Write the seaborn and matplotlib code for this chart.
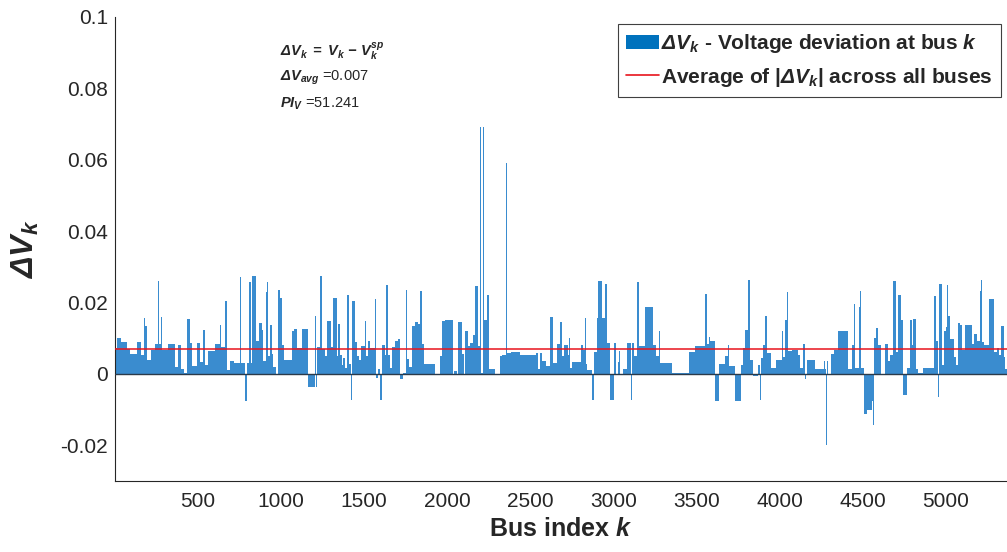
import numpy as np
import pandas as pd
import matplotlib
matplotlib.use("Agg")
import matplotlib.pyplot as plt
import seaborn as sns
from matplotlib.patches import Patch
from matplotlib.lines import Line2D

# ---- data: run-length description of the bus voltage deviations ----
seg_end = [10,34,74,90,130,154,174,184,196,218,242,260,264,276,286,320,360,380,400,414,
           434,450,462,494,514,530,542,562,602,634,640,660,674,690,714,750,760,780,792,804,
           816,824,849,
           867,883,893,907,917,923,933,943,953,967,983,993,1003,1017,1063,1079,1093,1123,1163,1203,
           1207,1213,1233,1243,1263,1279,1299,1313,1335,1343,1355,1367,1373,1387,1399,1407,1411,1419,1429,1447,
           1455,1467,1483,1503,1513,1523,1533,1563,1571,1583,1595,1607,1627,1633,1641,1653,1669,1687,1703,1713,
           1733,
           1752,1760,1772,1786,1806,1826,1836,1848,1860,1926,1956,1966,1986,2032,2040,2056,2066,2086,2100,2106,
           2122,2136,2152,2166,2182,2196,2202,2212,2218,2240,2252,2286,2316,2326,2356,2362,2386,2436,2536,2546,
           2556,2572,2596,
           2619,2633,2659,2679,2689,2705,2725,2733,2741,2753,2805,2819,2829,2835,2841,2873,2885,2899,2909,2929,
           2949,2959,2979,3005,3013,3025,3033,3041,3059,3079,3103,3113,3125,3141,3151,3189,3239,3253,3273,3281,
           3353,3453,3492,
           3552,3562,3572,3582,3608,3636,3672,3686,3696,3730,3766,3778,3794,3812,3822,3838,3868,3882,3886,3902,
           3912,3922,3946,3978,4012,4018,4032,4042,4052,4072,4112,4122,4138,4152,4158,4162,4212,4266,4272,4278,
           4282,4292,4306,4326,4348,
           4410,4434,4448,4454,4478,4484,4490,4510,4528,4554,4562,4566,4570,4578,4590,4610,4634,4650,4664,4684,
           4698,4714,4728,4744,4768,4784,4794,4804,4818,4830,4864,4928,4938,4954,4958,4974,4986,4998,5004,5014,
           5024,5048,5060,5070,5084,5094,5114,5154,5170,5190,5204,5214,5220,5230,5258,5290,5310,5320,5334,5348,
           5358,5368]

seg_dv = [0.0073,0.0101,0.009,0.007,0.0056,0.009,0.0054,0.0157,0.0134,0.004,
          0.0068,0.0084,0.0259,0.0084,0.0159,0.0066,0.0084,0.002,0.0082,0.0014,
          0.0003,0.0154,0.0087,0.0021,0.0087,0.0033,0.0124,0.0026,0.0063,0.0084,
          0.0138,0.0076,0.0205,0.0012,0.0037,0.0031,0.0271,0.0031,-0.0077,0.0031,
          0.0258,0.0031,0.0275,
          0.0093,0.0143,0.0122,0.0037,0.023,0.0258,0.005,0.0138,0.0057,0.0019,
          -0.0002,0.0234,0.0213,0.0082,0.0039,0.012,0.0126,0.0073,0.0126,-0.0037,
          0.0163,-0.0037,0.0076,0.0275,0.007,0.0051,0.0149,0.0076,0.0213,0.005,
          0.0141,0.0054,0.0026,0.0045,0.0017,0.0222,0.0289,0.0029,-0.0072,0.0204,
          0.0089,0.0051,0.004,0.0079,0.0149,0.005,0.0092,0.0073,0.021,-0.0011,
          0.0014,-0.0072,0.0082,0.0054,0.025,0.0054,0.0017,0.0076,0.0093,0.0099,
          -0.0013,
          0.0003,0.0236,0.0042,0.002,0.0135,0.0145,0.0141,0.0232,0.0085,0.0029,
          0.0,0.0051,0.0147,0.0152,0.0,0.0007,0.0,0.0145,0.0057,0.0,
          0.012,0.0079,0.0087,0.011,0.0247,0.0077,0.0693,0.0003,0.0693,0.0152,
          0.022,0.0015,0.0,0.005,0.0054,0.0592,0.0059,0.0062,0.0052,0.0059,
          0.0014,0.0059,0.0035,
          0.0021,0.016,0.0031,0.0084,0.0146,0.0051,0.0082,0.0054,0.01,0.0017,
          0.0033,0.0082,0.0068,0.0157,0.0028,0.0012,-0.0072,0.0062,0.0157,0.026,
          0.0157,0.0252,0.0087,-0.0072,0.0087,0.0,0.0033,0.0064,0.0,0.0015,
          0.0087,-0.0072,0.0087,0.0051,0.0258,0.0077,0.0188,0.0082,0.0051,0.012,
          0.0031,0.0003,0.0062,
          0.0077,0.0225,0.0085,0.0104,0.0092,-0.0075,0.0028,0.005,0.008,0.0021,
          -0.0075,0.0026,0.0073,0.0124,0.0264,0.004,-0.0007,0.0026,-0.0072,0.0044,
          0.0082,0.0163,0.0058,0.0017,0.0038,0.0121,0.0047,0.0152,0.023,0.0063,
          0.0068,0.0054,0.0017,0.0084,-0.0014,0.0,0.004,0.0014,0.0037,0.0014,
          -0.02,0.0037,0.0,0.0056,0.0066,
          0.0121,0.0015,0.0082,0.0197,0.0017,0.0188,0.0233,0.0017,-0.0111,-0.01,
          -0.0076,-0.0144,0.0,0.0101,0.0129,0.0082,-0.0004,0.0084,0.0037,0.0054,
          0.026,0.0062,0.0222,0.0152,-0.006,0.0017,0.0152,0.0082,0.0154,0.0014,
          0.0002,0.0017,0.0218,0.0092,-0.0064,0.0253,0.0026,0.0121,0.0131,0.025,
          0.0163,0.0099,0.0047,0.0026,0.0143,0.0138,0.0066,0.0138,0.0085,0.0113,
          0.0093,0.0232,0.0262,0.0089,0.0082,0.021,0.0062,0.0073,0.0054,0.0135,
          0.0047,0.0014]

dv_avg = 0.007
pi_v = 51.241
x_ticks = [500, 1000, 1500, 2000, 2500, 3000, 3500, 4000, 4500, 5000]
y_ticks = [-0.02, 0, 0.02, 0.04, 0.06, 0.08, 0.1]
y_ticklabels = ["-0.02", "0", "0.02", "0.04", "0.06", "0.08", "0.1"]

# expand runs to one value per bus
lengths = np.diff(np.concatenate([[0], seg_end]))
dv = np.repeat(seg_dv, lengths)
bus = np.arange(1, len(dv) + 1)
df = pd.DataFrame({"bus": bus, "dv": dv})

# ---- styling ----
sns.set_theme(style="white")
plt.rcParams["font.family"] = ["Liberation Sans", "DejaVu Sans"]
plt.rcParams["mathtext.fontset"] = "custom"
plt.rcParams["mathtext.rm"] = "Liberation Sans"
plt.rcParams["mathtext.it"] = "Liberation Sans:italic"
plt.rcParams["mathtext.bf"] = "Liberation Sans:bold"
plt.rcParams["mathtext.bfit"] = "Liberation Sans:bold:italic"

fig = plt.figure(figsize=(10.07, 5.52), dpi=100)
ax = fig.add_axes([115/1007, 1 - 481/552, 1 - 115/1007, (481 - 17)/552])

bar_color = "#3a8ccf"
sns.barplot(data=df, x="bus", y="dv", native_scale=True, width=1.0,
            color=bar_color, linewidth=0, errorbar=None, ax=ax, saturation=1)

ax.axhline(0, color="#2b3a4a", lw=1.0, zorder=3)
ax.axhline(dv_avg, color="#e8141c", lw=1.1, zorder=4)

ax.set_xlim(1, 5368)
ax.set_ylim(-0.03, 0.1)
ax.set_xticks(x_ticks)
ax.set_xticklabels([str(t) for t in x_ticks])
ax.set_yticks(y_ticks)
ax.set_yticklabels(y_ticklabels)
ax.tick_params(axis="both", direction="in", length=6, width=0.8, color="#262626",
               labelsize=15, labelcolor="#262626")
ax.tick_params(axis="y", pad=5)
ax.tick_params(axis="x", pad=8)

for s in ["top", "right"]:
    ax.spines[s].set_visible(False)
for s in ["left", "bottom"]:
    ax.spines[s].set_color("#262626")
    ax.spines[s].set_linewidth(0.8)

ax.set_xlabel(r"Bus index $\mathbfit{k}$", fontsize=18, fontweight="bold",
              color="#262626", labelpad=4)
ax.set_ylabel(r"$\mathbfit{\Delta V_k}$", fontsize=23, color="#262626", labelpad=14)

# annotation block
tx = 0.185
ytr = ax.get_yaxis_transform()
ax.text(tx, 0.0902, r"$\mathbfit{\Delta V_k}$ $\mathbfit{=}$ $\mathbfit{V_k}$ $\mathbfit{-}$ $\mathbfit{V_k^{sp}}$",
        transform=ytr, fontsize=10.5, va="center", ha="left")
ax.text(tx, 0.0829, r"$\mathbfit{\Delta V_{avg}}$ =%.3f" % dv_avg,
        transform=ytr, fontsize=10.5, va="center", ha="left")
ax.text(tx, 0.0756, r"$\mathbfit{PI_V}$ =%.3f" % pi_v,
        transform=ytr, fontsize=10.5, va="center", ha="left")

handles = [Patch(facecolor="#0072BD", edgecolor="none"),
           Line2D([0], [0], color="#e8141c", lw=1.2)]
labels = [r"$\mathbfit{\Delta V_k}$ - Voltage deviation at bus $\mathbfit{k}$",
          r"Average of |$\mathbfit{\Delta V_k}$| across all buses"]
leg = ax.legend(handles, labels, loc="upper right", bbox_to_anchor=(0.993, 0.985),
                prop={"weight": "bold", "size": 15}, frameon=True, fancybox=False,
                edgecolor="#404040", framealpha=1, handlelength=1.55, handleheight=0.7,
                handletextpad=0.1, borderpad=0.4, labelspacing=0.5, borderaxespad=0)
leg.get_frame().set_linewidth(0.8)

fig.savefig("out.png", dpi=100)
